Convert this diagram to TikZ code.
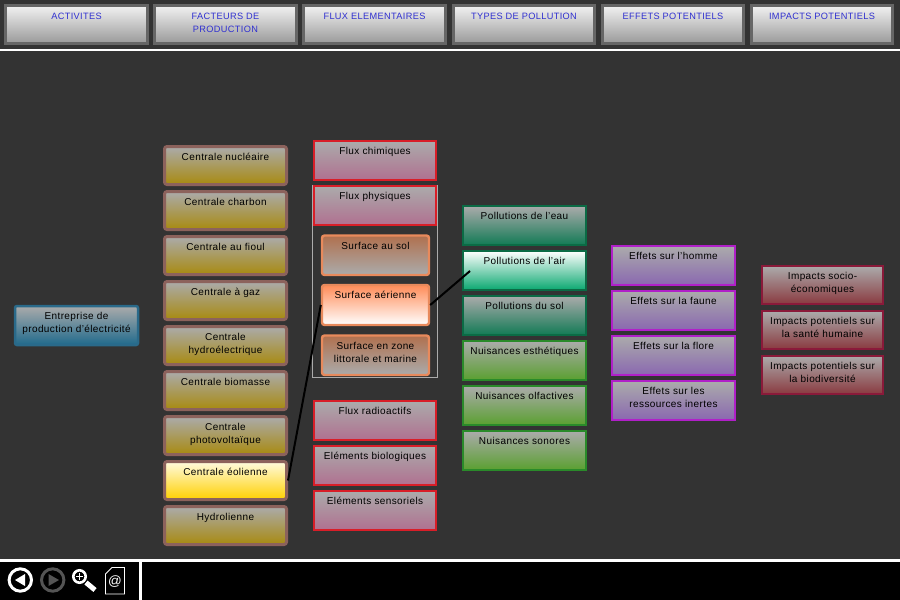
\documentclass[tikz,border=0pt]{standalone}
\usepackage{fontspec}
\setmainfont[LetterSpace=4]{Liberation Sans}
\definecolor{bgc}{HTML}{333333}
\tikzset{
  x=1pt,y=-1pt,
  base/.style={inner sep=0pt,text=black,shape=rectangle},
  headbox/.style={base,draw=headedge,line width=3pt,top color=headtop,bottom color=headbot,text=headtext},
  actbox/.style={base,draw=actedge,line width=2.5pt,rounded corners=2pt,top color=neutral,bottom color=actbot},
  sitebox/.style={base,draw=siteedge,line width=3pt,rounded corners=2.5pt,top color=neutral,bottom color=sitebot},
  siteon/.style={sitebox,top color=siteontop,bottom color=siteonbot},
  fluxbox/.style={base,draw=fluxedge,line width=2pt,top color=neutral,bottom color=fluxbot},
  surfbox/.style={base,draw=surfedge,line width=2.4pt,rounded corners=2.5pt,top color=surftop,bottom color=neutral},
  surfon/.style={surfbox,top color=surfontop,bottom color=white},
  polbox/.style={base,draw=poledge,line width=2pt,top color=neutral,bottom color=polbot},
  polon/.style={polbox,top color=white,bottom color=polonbot},
  nuisbox/.style={base,draw=nuisedge,line width=2pt,top color=neutral,bottom color=nuisbot},
  effbox/.style={base,draw=effedge,line width=2pt,top color=neutral,bottom color=effbot},
  impbox/.style={base,draw=impedge,line width=2pt,top color=neutral,bottom color=impbot},
  link/.style={draw=black,line width=2pt},
  rule/.style={fill=white,draw=none},
}
\definecolor{headedge}{HTML}{666666}\definecolor{headtop}{HTML}{F2F2F2}\definecolor{headbot}{HTML}{999999}\definecolor{headtext}{HTML}{3030D0}
\definecolor{neutral}{HTML}{ABABAB}
\definecolor{actedge}{HTML}{2A6A8A}\definecolor{actbot}{HTML}{206A8C}
\definecolor{siteedge}{HTML}{8C625C}\definecolor{sitebot}{HTML}{A88A10}\definecolor{siteontop}{HTML}{FFFBE0}\definecolor{siteonbot}{HTML}{FFD000}
\definecolor{fluxedge}{HTML}{D81E28}\definecolor{fluxbot}{HTML}{B07090}
\definecolor{surfedge}{HTML}{E88A5C}\definecolor{surftop}{HTML}{B0704E}\definecolor{surfontop}{HTML}{FF8C58}
\definecolor{poledge}{HTML}{0B6B45}\definecolor{polbot}{HTML}{127A55}\definecolor{polonbot}{HTML}{0AA870}
\definecolor{nuisedge}{HTML}{2A8A2A}\definecolor{nuisbot}{HTML}{5AA030}
\definecolor{effedge}{HTML}{B020C8}\definecolor{effbot}{HTML}{8A68B0}
\definecolor{impedge}{HTML}{8A1A3A}\definecolor{impbot}{HTML}{8A3A40}
\newcommand{\bx}[7]{%
  \pgfmathsetmacro\bxw{#5-#3}\pgfmathsetmacro\bxh{#6-#4}%
  \pgfmathsetmacro\bxx{(#5+#3)/2}\pgfmathsetmacro\bxy{(#6+#4)/2}%
  \node[#2,at={(\bxx,\bxy)}] (#1) {\parbox[c][\bxh pt][t]{\bxw pt}{\centering\fontsize{10pt}{13pt}\selectfont\rule{0pt}{13.6pt}#7}};}
\newcommand{\hd}{\fontsize{9.2pt}{13pt}\selectfont}
\begin{document}
\begin{tikzpicture}
\useasboundingbox (0,0) rectangle (900,600);
\fill[bgc] (0,0) rectangle (900,600);
\fill[rule] (0,48.7) rectangle (900,50.8);
\fill[black] (0,559) rectangle (900,600);
\fill[rule] (0,559) rectangle (900,561.7);
\fill[rule] (139,560) rectangle (142,600);
% headers
\bx{h1}{headbox}{5.5}{5.5}{147.5}{43.5}{\hd ACTIVITES}
\bx{h2}{headbox}{154.5}{5.5}{296.5}{43.5}{\hd FACTEURS DE\\PRODUCTION}
\bx{h3}{headbox}{303.5}{5.5}{445.5}{43.5}{\hd FLUX ELEMENTAIRES}
\bx{h4}{headbox}{453.5}{5.5}{594.5}{43.5}{\hd TYPES DE POLLUTION}
\bx{h5}{headbox}{602.5}{5.5}{743.5}{43.5}{\hd EFFETS POTENTIELS}
\bx{h6}{headbox}{751.5}{5.5}{892.5}{43.5}{\hd IMPACTS POTENTIELS}
% activity
\bx{ent}{actbox}{15}{306}{138}{345}{Entreprise de\\production d'électricité}
% sites
\bx{s1}{sitebox}{164.5}{146.5}{286.5}{184.5}{Centrale nucléaire}
\bx{s2}{sitebox}{164.5}{191.5}{286.5}{229.5}{Centrale charbon}
\bx{s3}{sitebox}{164.5}{236.5}{286.5}{274.5}{Centrale au fioul}
\bx{s4}{sitebox}{164.5}{281.5}{286.5}{319.5}{Centrale à gaz}
\bx{s5}{sitebox}{164.5}{326.5}{286.5}{364.5}{Centrale\\hydroélectrique}
\bx{s6}{sitebox}{164.5}{371.5}{286.5}{409.5}{Centrale biomasse}
\bx{s7}{sitebox}{164.5}{416.5}{286.5}{454.5}{Centrale\\photovoltaïque}
\bx{s8}{siteon}{164.5}{461.5}{286.5}{499.5}{Centrale éolienne}
\bx{s9}{sitebox}{164.5}{506.5}{286.5}{544.5}{Hydrolienne}
% flux group
\draw[draw=neutral,line width=1pt] (312.5,185.5) rectangle (437.5,377.5);
\bx{f1}{fluxbox}{314}{141}{436}{180}{Flux chimiques}
\bx{f2}{fluxbox}{314}{186}{436}{225}{Flux physiques}
\bx{a1}{surfbox}{322}{235.5}{429}{275}{Surface au sol}
\bx{a2}{surfon}{322}{285}{429}{325}{Surface aérienne}
\bx{a3}{surfbox}{322}{335.5}{429}{375}{Surface en zone\\littorale et marine}
\bx{f3}{fluxbox}{314}{401}{436}{440}{Flux radioactifs}
\bx{f4}{fluxbox}{314}{446}{436}{485}{Eléments biologiques}
\bx{f5}{fluxbox}{314}{491}{436}{530}{Eléments sensoriels}
% pollution
\bx{p1}{polbox}{463}{206}{586}{245}{Pollutions de l'eau}
\bx{p2}{polon}{463}{251}{586}{290}{Pollutions de l'air}
\bx{p3}{polbox}{463}{296}{586}{335}{Pollutions du sol}
\bx{n1}{nuisbox}{463}{341}{586}{380}{Nuisances esthétiques}
\bx{n2}{nuisbox}{463}{386}{586}{425}{Nuisances olfactives}
\bx{n3}{nuisbox}{463}{431}{586}{470}{Nuisances sonores}
% effects
\bx{e1}{effbox}{612}{246}{735}{285}{Effets sur l'homme}
\bx{e2}{effbox}{612}{291}{735}{330}{Effets sur la faune}
\bx{e3}{effbox}{612}{336}{735}{375}{Effets sur la flore}
\bx{e4}{effbox}{612}{381}{735}{420}{Effets sur les\\ressources inertes}
% impacts
\bx{i1}{impbox}{762}{266}{883}{304}{Impacts socio-\\économiques}
\bx{i2}{impbox}{762}{311}{883}{349}{Impacts potentiels sur\\la santé humaine}
\bx{i3}{impbox}{762}{356}{883}{394}{Impacts potentiels sur\\la biodiversité}
% connectors
\coordinate (airend) at (470,271);
\draw[link] (s8.east) -- (a2.west);
\draw[link] (a2.east) -- (airend);
% toolbar icons
\draw[white,line width=3pt] (20.3,580) circle (11.2);
\fill[white] (15,580) -- (25,574) -- (25,586) -- cycle;
\draw[draw=white!33!black,line width=3pt] (52.7,580) circle (11.2);
\fill[white!33!black] (59,580) -- (48.5,574) -- (48.5,586) -- cycle;
\draw[white,line width=2.6pt] (79.5,576.5) circle (6.2);
\draw[white,line width=1.6pt] (76.3,576.5) -- (82.7,576.5) (79.5,573.3) -- (79.5,579.7);
\draw[white,line width=5pt] (86,582.5) -- (95,590);
\draw[white,line width=0.9pt] (112,567.5) -- (124.5,567.5) -- (124.5,594) -- (105.5,594) -- (105.5,574) -- cycle;
\node[base,text=white,font=\fontsize{13.5pt}{14pt}\selectfont,at={(115,581.5)}] (docat) {@};
\end{tikzpicture}
\end{document}
